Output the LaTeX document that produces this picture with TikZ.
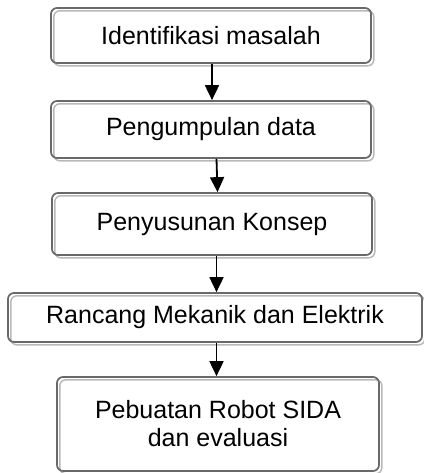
\documentclass[tikz,border=0pt]{standalone}
\usepackage{fontspec}
\setmainfont{Liberation Sans}
\usetikzlibrary{arrows.meta}
\definecolor{boxline}{RGB}{105,105,105}
\definecolor{shadowline}{RGB}{185,185,185}
\tikzset{
  stepbox/.style={
    draw=boxline, line width=1.7pt, rounded corners=6pt,
    inner sep=0pt, align=center,
    font=\fontsize{25}{28}\selectfont,
    preaction={draw=shadowline, line width=1.5pt,
      transform canvas={shift={(2.8pt,-2.8pt)}}}
  },
  flowarrow/.style={draw=black, line width=1.8pt,
    -{Triangle[width=14pt,length=15pt]}}
}
\begin{document}
\begin{tikzpicture}[x=1pt,y=-1pt]
\useasboundingbox (0,0) rectangle (423,473);
\node[stepbox, minimum width=320pt, minimum height=55pt] (b1) at (211,35.5) {Identifikasi masalah};
\node[stepbox, minimum width=320pt, minimum height=57pt] (b2) at (211,129.5) {Pengumpulan data};
\node[stepbox, minimum width=320pt, minimum height=62pt] (b3) at (212,224) {Penyusunan Konsep};
\node[stepbox, minimum width=414pt, minimum height=49pt] (b4) at (215,317.5) {Rancang Mekanik dan Elektrik};
\node[stepbox, minimum width=322pt, minimum height=94pt] (b5) at (218,424) {Pebuatan Robot SIDA\\dan evaluasi};
\draw[flowarrow] ([xshift=1pt]b1.south) -- ([xshift=1pt]b2.north);
\draw[flowarrow] ([xshift=5.5pt]b2.south) -- ([xshift=5.5pt]b3.north);
\draw[flowarrow] ([xshift=4.5pt]b3.south) -- ([xshift=1.5pt]b4.north);
\draw[flowarrow] ([xshift=1.5pt]b4.south) -- ([xshift=-1.5pt]b5.north);
\end{tikzpicture}
\end{document}
